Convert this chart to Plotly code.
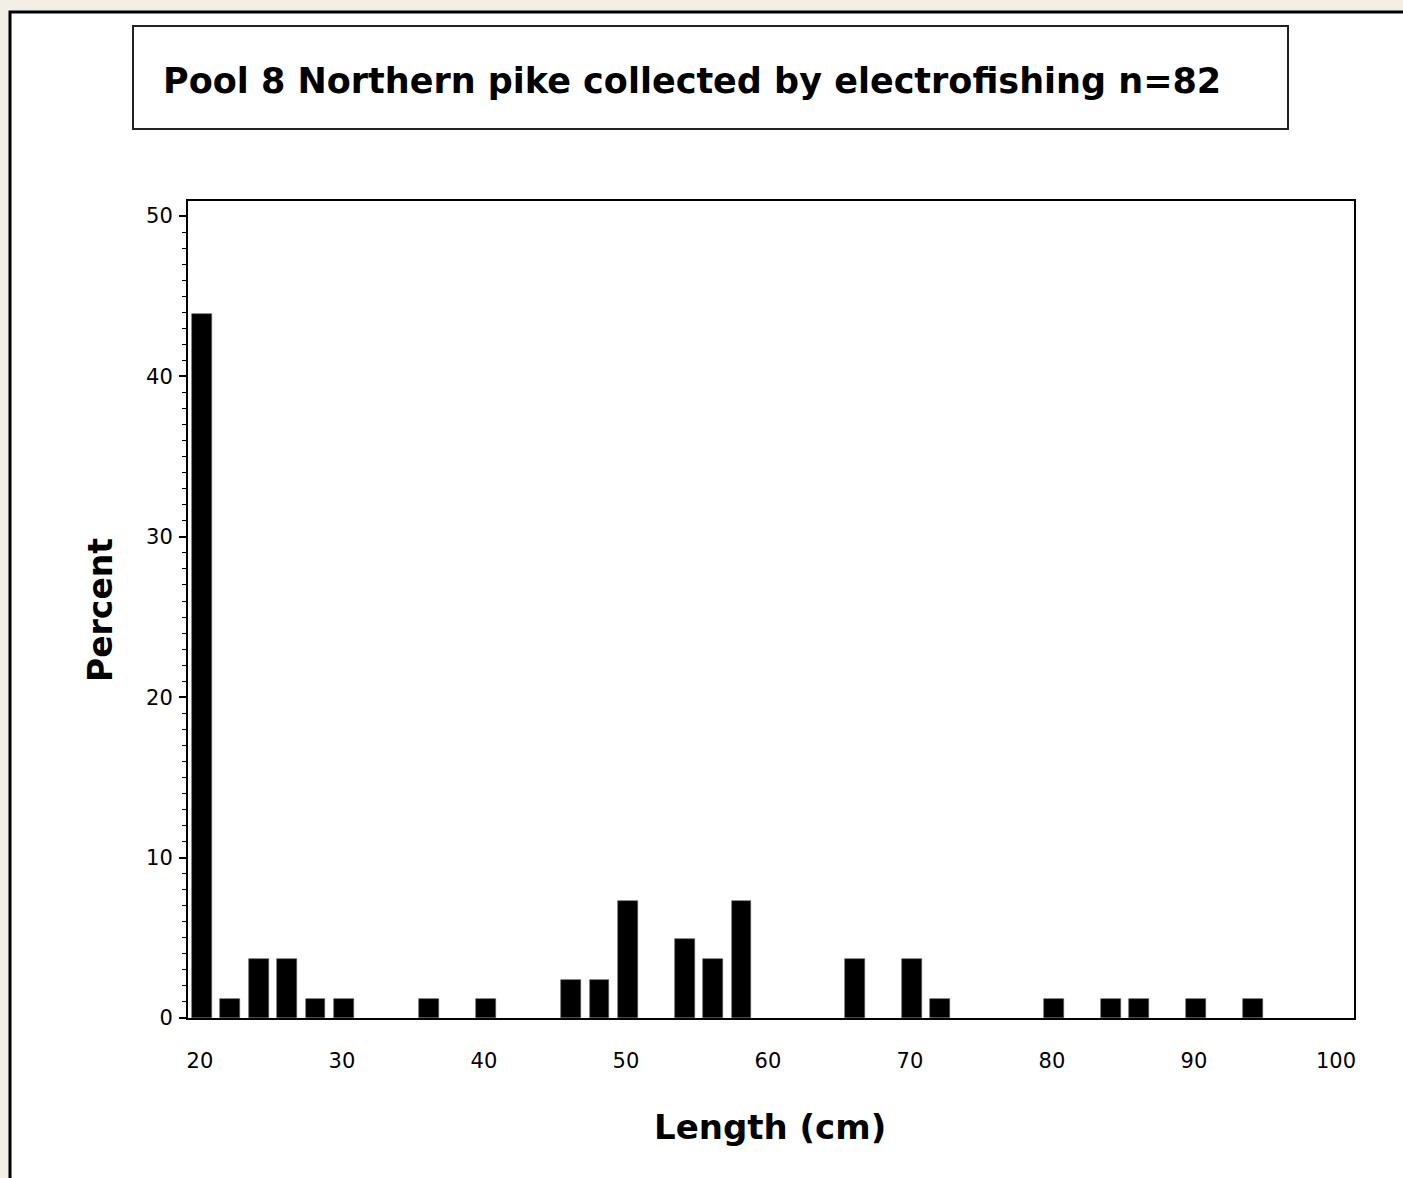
import plotly.graph_objects as go

# Data: length-class midpoints (cm) and percent of fish (n=82)
lengths = [20, 22, 24, 26, 28, 30, 36, 40, 46, 48, 50, 54, 56, 58, 66, 70, 72, 80, 84, 86, 90, 94]
percent = [43.9, 1.2, 3.7, 3.7, 1.2, 1.2, 1.2, 1.2, 2.4, 2.4, 7.3, 4.9, 3.7, 7.3, 3.7, 3.7, 1.2, 1.2, 1.2, 1.2, 1.2, 1.2]
x_ticks = [20, 30, 40, 50, 60, 70, 80, 90, 100]
y_ticks = [0, 10, 20, 30, 40, 50]
title_text = "Pool 8 Northern pike collected by electrofishing n=82"
x_title = "Length (cm)"
y_title = "Percent"

W, H = 1403, 1178
L, R, T, B = 188, 49, 201, 160
pw, ph = W - L - R, H - T - B

def px(xp):
    return (xp - L) / pw

def py(yp):
    return (H - B - yp) / ph

fig = go.Figure()
fig.add_trace(go.Bar(x=lengths, y=percent, width=1.4, offset=-0.56,
                     marker=dict(color="black", line=dict(width=0.6, color="#555555")),
                     hoverinfo="x+y"))

fig.update_layout(
    width=W, height=H,
    margin=dict(l=L, r=R, t=T, b=B, pad=0),
    paper_bgcolor="#f3efe6",
    plot_bgcolor="white",
    showlegend=False,
    bargap=0,
    font=dict(family="DejaVu Sans", color="black"),
)

fig.update_xaxes(range=[19.16, 101.27], tickvals=x_ticks, ticks="", showgrid=False,
                 zeroline=False, showline=True, linecolor="black", linewidth=2, mirror=True,
                 tickfont=dict(family="DejaVu Sans", size=21, color="black"),
                 ticklabelstandoff=23)
fig.update_yaxes(range=[0, 50.94], tickvals=y_ticks, ticks="outside", ticklen=7, tickwidth=1.5,
                 tickcolor="black", showgrid=False, zeroline=False, showline=True,
                 linecolor="black", linewidth=2, mirror=True,
                 minor=dict(dtick=1, ticks="outside", ticklen=4, tickwidth=1.2, tickcolor="black"),
                 tickfont=dict(family="DejaVu Sans", size=21, color="black"),
                 ticklabelstandoff=2)

shapes = [
    # white panel with black frame
    dict(type="rect", xref="paper", yref="paper", layer="below",
         x0=px(10), x1=px(1440), y0=py(1220), y1=py(12),
         fillcolor="white", line=dict(color="black", width=3)),
    # title box
    dict(type="rect", xref="paper", yref="paper",
         x0=px(133), x1=px(1288), y0=py(129), y1=py(26),
         fillcolor="rgba(0,0,0,0)", line=dict(color="#222222", width=2)),
]
fig.update_layout(shapes=shapes)

fig.add_annotation(text=title_text, xref="paper", yref="paper", x=px(161), y=py(81),
                   xanchor="left", yanchor="middle", showarrow=False,
                   font=dict(family="DejaVu Sans", size=35, color="black", weight="bold"))
fig.add_annotation(text=x_title, xref="paper", yref="paper", x=px(770), y=py(1127),
                   xanchor="center", yanchor="middle", showarrow=False,
                   font=dict(family="DejaVu Sans", size=34, color="black", weight="bold"))
fig.add_annotation(text=y_title, xref="paper", yref="paper", x=px(100), y=py(610),
                   xanchor="center", yanchor="middle", showarrow=False, textangle=-90,
                   font=dict(family="DejaVu Sans", size=33, color="black", weight="bold"))

fig.write_html("out.html", config={"displayModeBar": False},
               post_script="document.body.style.margin='0px';document.body.style.overflow='hidden';")
